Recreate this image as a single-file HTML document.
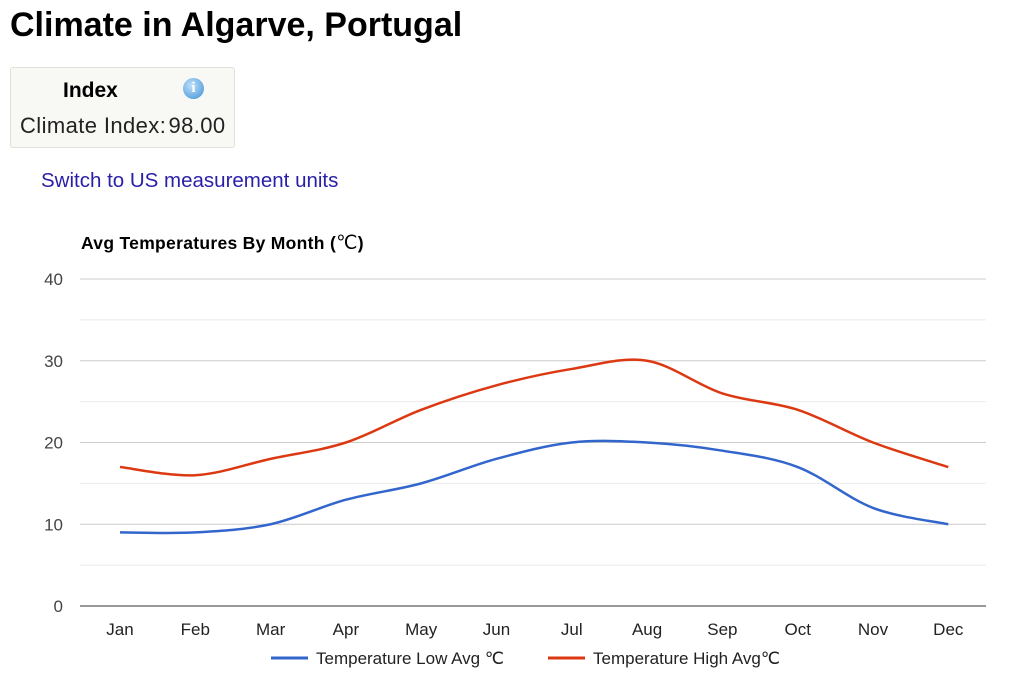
<!DOCTYPE html>
<html><head><meta charset="utf-8"><style>
body{margin:0;background:#fff;font-family:"Liberation Sans",Arial,sans-serif;width:1024px;height:684px;position:relative;overflow:hidden}
h1{position:absolute;left:10px;top:6px;margin:0;font-size:34px;font-weight:bold;color:#000}
.box{position:absolute;left:10px;top:67px;width:223px;height:79px;border:1px solid #e0e0d8;border-radius:3px;background:#f8f8f4}
.box .t{position:absolute;left:52px;top:11px;font-size:21px;font-weight:bold}
.box .v{position:absolute;left:9px;top:45px;font-size:22px;color:#222;white-space:nowrap;letter-spacing:0.4px}
.info{position:absolute;left:172px;top:10px;width:21px;height:21px;border-radius:50%;background:radial-gradient(circle at 40% 35%,#bfe0fa,#3d8fd6);color:#fff;font:bold 15px "Liberation Serif",serif;text-align:center;line-height:21px}
.sw{position:absolute;left:41px;top:169px;font-size:20.5px;color:#2a1fa8;white-space:nowrap}
svg{position:absolute;left:0;top:0}
</style></head><body>
<h1>Climate in Algarve, Portugal</h1>
<div class="box"><div class="t">Index</div><div class="info">i</div><div class="v">Climate Index:&#8202;98.00</div></div>
<div class="sw">Switch to US measurement units</div>
<svg id="s" width="1024" height="684" font-family="Liberation Sans,Arial,sans-serif"></svg>
<script>
const s=document.getElementById('s');let h='';
h+='<text x="81" y="249" font-size="17.5" font-weight="bold" letter-spacing="0.3">Avg Temperatures By Month (<tspan font-family="Liberation Serif,serif" font-weight="normal" font-size="19">℃</tspan>)</text>';
const Y=v=>606-v*8.175;
for(let v=0;v<=40;v+=5){const y=Y(v);h+=`<line x1="80" x2="986" y1="${y}" y2="${y}" stroke="${v==0?'#333':(v%10?'#ebebeb':'#ccc')}" stroke-width="1"/>`;
if(v%10==0)h+=`<text x="63" y="${y+6}" font-size="17" fill="#444" text-anchor="end">${v}</text>`;}
const m=['Jan','Feb','Mar','Apr','May','Jun','Jul','Aug','Sep','Oct','Nov','Dec'];
const X=i=>120+i*75.3;
m.forEach((n,i)=>h+=`<text x="${X(i)}" y="635" font-size="17" fill="#222" text-anchor="middle">${n}</text>`);
function path(d){const p=d.map((v,i)=>[X(i),Y(v)]);let s=`M${p[0]}`;
for(let i=0;i<p.length-1;i++){const a=p[i-1]||p[i],b=p[i],c=p[i+1],e=p[i+2]||c;
s+=` C${b[0]+(c[0]-a[0])/6},${b[1]+(c[1]-a[1])/6} ${c[0]-(e[0]-b[0])/6},${c[1]-(e[1]-b[1])/6} ${c[0]},${c[1]}`;}return s;}
h+=`<path d="${path([9,9,10,13,15,18,20,20,19,17,12,10])}" fill="none" stroke="#3366cc" stroke-width="2.5"/>`;
h+=`<path d="${path([17,16,18,20,24,27,29,30,26,24,20,17])}" fill="none" stroke="#dc3912" stroke-width="2.5"/>`;
h+='<line x1="271" x2="308" y1="658" y2="658" stroke="#3366cc" stroke-width="3"/><text x="316" y="664" font-size="17" fill="#222">Temperature Low Avg <tspan font-family="Liberation Serif,serif">℃</tspan></text>';
h+='<line x1="548" x2="585" y1="658" y2="658" stroke="#dc3912" stroke-width="3"/><text x="593" y="664" font-size="17" fill="#222">Temperature High Avg<tspan font-family="Liberation Serif,serif">℃</tspan></text>';
s.innerHTML=h;
</script>
</body></html>
